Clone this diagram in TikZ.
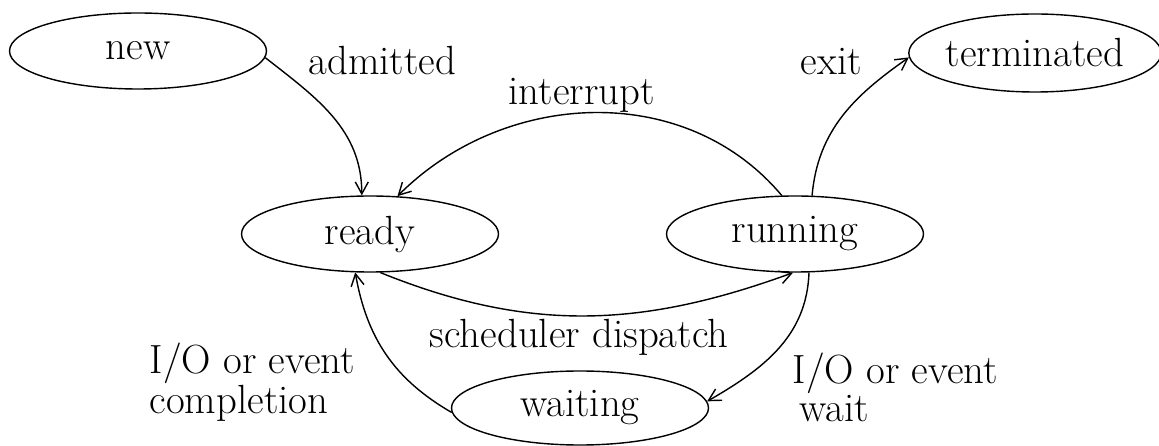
\documentclass[tikz,border=0pt]{standalone}
\usetikzlibrary{shapes.geometric,arrows.meta}
\begin{document}
\begin{tikzpicture}[line width=0.8pt,
  every node/.style={font=\fontsize{23.2}{19.6}\selectfont},
  proc/.style={draw, ellipse, minimum width=5.14cm, minimum height=1.52cm, inner sep=0pt},
  lab/.style={inner sep=0pt, align=left},
  >={Straight Barb[length=2.4mm,width=2.6mm]}]
\useasboundingbox (0,0) rectangle (23.18,8.92);
% states
\node[proc] (new) at (2.76,7.90) {new};
\node[proc, minimum width=4.92cm, minimum height=1.56cm] (term) at (20.70,7.86) {terminated};
\node[proc] (ready) at (7.40,4.24) {ready};
\node[proc] (run) at (15.90,4.24) {running};
\node[proc, minimum height=1.48cm] (wait) at (11.60,0.76) {waiting};
% labels
\node[lab, anchor=base west] (admit) at (6.16,7.42) {admitted};
\node[lab, anchor=base west] (intr) at (10.16,6.82) {interrupt};
\node[lab, anchor=base west] (exit) at (16.00,7.42) {exit};
\node[lab, anchor=base west] (disp) at (8.58,1.96) {scheduler dispatch};
\node[lab, anchor=north west] (compl) at (2.98,2.08) {I/O or event\\completion};
\node[lab, anchor=north west] (iowait) at (15.84,1.88) {I/O or event\\\,wait};
% transitions
\draw[->] (new.-3) to[out=-38,in=90] (ready.102);
\draw[->] (run.109) to[out=130,in=45] (ready.54);
\draw[->] (run.66) to[out=85,in=-145] (term.182);
\draw[->] (ready.-75) to[out=-22,in=-160] (run.-93);
\draw[->] (run.-70) to[out=-92,in=30] (wait.3);
\draw[->] (wait.182) to[out=150,in=-80] (ready.-111);
\end{tikzpicture}
\end{document}
